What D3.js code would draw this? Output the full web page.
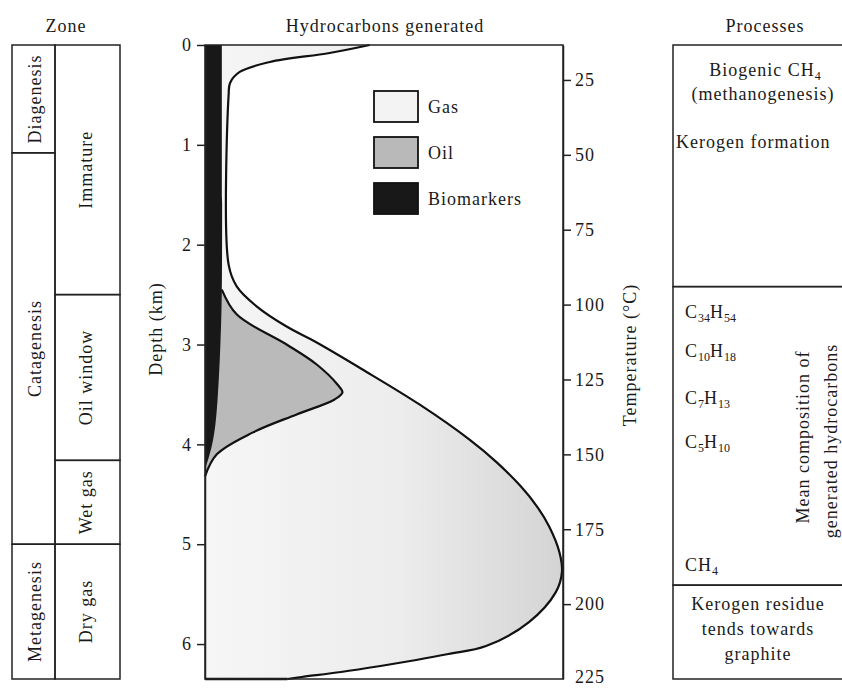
<!DOCTYPE html>
<html>
<head>
<meta charset="utf-8">
<script src="https://cdn.jsdelivr.net/npm/d3@7"></script>
<style>
  html, body { margin: 0; padding: 0; background: #fff; overflow: hidden; }
  svg { display: block; }
  svg text { font-family: "Liberation Serif", serif; fill: #1a1a1a; letter-spacing: 1px; }
</style>
</head>
<body>
<div id="viz"></div>
<script>
//Datos del gráfico
const depthTicks = [0, 1, 2, 3, 4, 5, 6];
const tempTicks = [25, 50, 75, 100, 125, 150, 175, 200, 225];

//Gas (borde exterior, acumulado)
const gasDepth = [0, 0.08, 0.17, 0.27, 0.38, 0.5, 2.2, 2.42, 2.62, 2.82, 2.98, 3.25, 3.6, 3.95, 4.18, 4.42, 4.62, 4.82, 5.08, 5.28, 5.48, 5.78, 6.02, 6.1, 6.16, 6.22, 6.28, 6.33, 6.35];
const gasEdge = [46, 34.8, 18.1, 9.7, 7.0, 6.6, 6.6, 8.9, 14.5, 22.8, 31.2, 44.0, 59.9, 73.8, 81.5, 88.2, 92.7, 96.1, 99.0, 99.7, 98.0, 90.5, 78.5, 68, 59, 49, 38, 27, 23];

//Petróleo
const oilDepth = [2.45, 2.7, 3.0, 3.2, 3.4, 3.48, 3.55, 3.7, 3.88, 4.1, 4.32];
const oilEdge = [4.7, 8.9, 22.8, 31.2, 37, 38.4, 36.2, 25.6, 13.4, 3.3, 0];

//Biomarcadores
const bioDepth = [0, 2.45, 3.0, 3.5, 3.8, 4.0, 4.15, 4.25];
const bioEdge = [4.7, 4.7, 4.3, 3.6, 2.9, 2.0, 0.9, 0];

//Zonas
const stageNames = ['Diagenesis', 'Catagenesis', 'Metagenesis'];
const stageBreaks = [0, 1.08, 5.0, 6.35];
const maturityNames = ['Immature', 'Oil window', 'Wet gas', 'Dry gas'];
const maturityBreaks = [0, 2.5, 4.16, 5.0, 6.35];

//Procesos
const processBreaks = [0, 2.42, 5.41, 6.35];
const formulas = ['C34H54', 'C10H18', 'C7H13', 'C5H10', 'CH4'];
const formulaDepths = [2.73, 3.12, 3.6, 4.04, 5.27];
const residueLines = ['Kerogen residue', 'tends towards', 'graphite'];

const legendLabels = ['Gas', 'Oil', 'Biomarkers'];
const legendFills = ['#f3f3f3', '#b9b9b9', '#181818'];

const FONT = 'Liberation Serif';
const W = 842, H = 688;
const svg = d3.select('#viz').append('svg').attr('width', W).attr('height', H)
    .attr('font-family', FONT);

let y = d3.scaleLinear().domain([0, 6.35]).range([45, 679]);
let x = d3.scaleLinear().domain([0, 100]).range([205, 563]);
let t = d3.scaleLinear().domain([13.33, 225]).range([45, 679]);

//Gradiente para el gas
let defs = svg.append('defs');
let grad = defs.append('linearGradient').attr('id', 'gasGrad')
    .attr('gradientUnits', 'userSpaceOnUse')
    .attr('x1', x(0)).attr('x2', x(100)).attr('y1', 0).attr('y2', 0);
grad.append('stop').attr('offset', 0).attr('stop-color', '#f6f6f6');
grad.append('stop').attr('offset', 0.55).attr('stop-color', '#ececec');
grad.append('stop').attr('offset', 1).attr('stop-color', '#d4d4d4');

function toPoints(ds, vs) {
    return ds.map(function(d, i) { return { d: d, v: vs[i] }; });
}
let gasData = toPoints(gasDepth, gasEdge);
let oilData = toPoints(oilDepth, oilEdge);
let bioData = toPoints(bioDepth, bioEdge);

let curve = d3.curveCatmullRom.alpha(0.5);
let area = d3.area()
    .x0(x(0))
    .x1(function(p) { return x(p.v); })
    .y(function(p) { return y(p.d); })
    .curve(curve);
let line = d3.line()
    .x(function(p) { return x(p.v); })
    .y(function(p) { return y(p.d); })
    .curve(curve);

svg.append('path').datum(gasData).attr('d', area).attr('fill', 'url(#gasGrad)');
svg.append('path').datum(oilData).attr('d', area).attr('fill', '#bababa');
svg.append('path').datum(bioData).attr('d', area).attr('fill', '#181818');
svg.append('path').datum(gasData).attr('d', line)
    .attr('fill', 'none').attr('stroke', '#111').attr('stroke-width', 2.2);
svg.append('path').datum(oilData).attr('d', line)
    .attr('fill', 'none').attr('stroke', '#111').attr('stroke-width', 2.2);
//cola del gas sobre la base
svg.append('line')
    .attr('x1', x(0)).attr('x2', x(gasEdge[gasEdge.length - 1]))
    .attr('y1', y(6.35)).attr('y2', y(6.35))
    .attr('stroke', '#111').attr('stroke-width', 2.6);

//Marco
svg.append('rect')
    .attr('x', x(0)).attr('y', y(0))
    .attr('width', x(100) - x(0)).attr('height', y(6.35) - y(0))
    .attr('fill', 'none').attr('stroke', '#222').attr('stroke-width', 1.5);

//Ejes
let yAxis = svg.append('g')
    .attr('transform', 'translate(' + x(0) + ',0)')
    .call(d3.axisLeft(y).tickValues(depthTicks).tickFormat(d3.format('d')).tickSize(8).tickSizeOuter(0).tickPadding(5));
let tAxis = svg.append('g')
    .attr('transform', 'translate(' + x(100) + ',0)')
    .call(d3.axisRight(t).tickValues(tempTicks).tickFormat(d3.format('d')).tickSize(8).tickSizeOuter(0).tickPadding(4));
[yAxis, tAxis].forEach(function(g) {
    g.attr('font-family', FONT).attr('font-size', null);
    g.selectAll('text').style('font-size', '18px').attr('fill', '#1a1a1a');
    g.selectAll('line, path').attr('stroke', '#222').attr('stroke-width', 1.5);
});
tAxis.selectAll('.tick').filter(function(d) { return d == 225; }).select('line').remove();
tAxis.selectAll('.tick').filter(function(d) { return d == 225; }).select('text').attr('dy', '0.2em');

svg.append('text').attr('transform', 'translate(162,329) rotate(-90)')
    .attr('text-anchor', 'middle').style('font-size', '18px').text('Depth (km)');
svg.append('text').attr('transform', 'translate(636,355) rotate(-90)')
    .attr('text-anchor', 'middle').style('font-size', '18px').text('Temperature (°C)');

//Títulos
svg.append('text').attr('x', 385).attr('y', 32).attr('text-anchor', 'middle')
    .style('font-size', '18px').text('Hydrocarbons generated');
svg.append('text').attr('x', 66).attr('y', 32).attr('text-anchor', 'middle')
    .style('font-size', '18px').text('Zone');
svg.append('text').attr('x', 765).attr('y', 32).attr('text-anchor', 'middle')
    .style('font-size', '18px').text('Processes');

//Leyenda
let legend = svg.append('g');
legendLabels.forEach(function(lab, i) {
    let ly = 91 + i * 46;
    legend.append('rect').attr('x', 374).attr('y', ly).attr('width', 44).attr('height', 31)
        .attr('fill', legendFills[i]).attr('stroke', '#111').attr('stroke-width', 1.8);
    legend.append('text').attr('x', 428).attr('y', ly + 22).style('font-size', '18px').text(lab);
});

//Columna de procesos
let proc = svg.append('g');
for (let i = 0; i < processBreaks.length - 1; i++) {
    proc.append('rect')
        .attr('x', 673).attr('y', y(processBreaks[i]))
        .attr('width', 185).attr('height', y(processBreaks[i + 1]) - y(processBreaks[i]))
        .attr('fill', 'none').attr('stroke', '#222').attr('stroke-width', 1.5);
}

residueLines.forEach(function(s, i) {
    proc.append('text').attr('x', 758).attr('y', 610 + i * 25)
        .attr('text-anchor', 'middle').style('font-size', '18px').text(s);
});

//texto con subíndices
function formulaText(g, str, px, py, anchor) {
    let txt = g.append('text').attr('x', px).attr('y', py)
        .attr('text-anchor', anchor || 'start').style('font-size', '18px');
    let shifted = false;
    str.match(/[^\d]+|\d+/g).forEach(function(part) {
        let sp = txt.append('tspan').text(part);
        if (/^\d+$/.test(part)) {
            sp.attr('dy', 4).style('font-size', '12px').style('letter-spacing', '0px');
            shifted = true;
        } else if (shifted) {
            sp.attr('dy', -4);
            shifted = false;
        }
    });
    return txt;
}

formulaText(proc, 'Biogenic CH4', 765, 76, 'middle');
proc.append('text').attr('x', 763).attr('y', 100).attr('text-anchor', 'middle')
    .style('font-size', '18px').text('(methanogenesis)');
proc.append('text').attr('x', 676).attr('y', 148).style('font-size', '18px').text('Kerogen formation');

formulas.forEach(function(f, i) {
    formulaText(proc, f, 685, y(formulaDepths[i]));
});

proc.append('text').attr('transform', 'translate(809,437) rotate(-90)')
    .attr('text-anchor', 'middle').style('font-size', '18px').text('Mean composition of');
proc.append('text').attr('transform', 'translate(837,441) rotate(-90)')
    .attr('text-anchor', 'middle').style('font-size', '18px').text('generated hydrocarbons');

//Columna de zonas
let zone = svg.append('g');
function drawCells(breaks, names, x0, x1, tx) {
    names.forEach(function(n, i) {
        zone.append('rect')
            .attr('x', x0).attr('y', y(breaks[i]))
            .attr('width', x1 - x0).attr('height', y(breaks[i + 1]) - y(breaks[i]))
            .attr('fill', 'none').attr('stroke', '#222').attr('stroke-width', 1.5);
        let cy = (y(breaks[i]) + y(breaks[i + 1])) / 2;
        zone.append('text').attr('transform', 'translate(' + tx + ',' + cy + ') rotate(-90)')
            .attr('text-anchor', 'middle').style('font-size', '18px').text(n);
    });
}
drawCells(stageBreaks, stageNames, 12, 55, 41);
drawCells(maturityBreaks, maturityNames, 55, 120, 92);

svg.selectAll('text').attr('font-family', FONT).style('font-family', FONT);
</script>
</body>
</html>
